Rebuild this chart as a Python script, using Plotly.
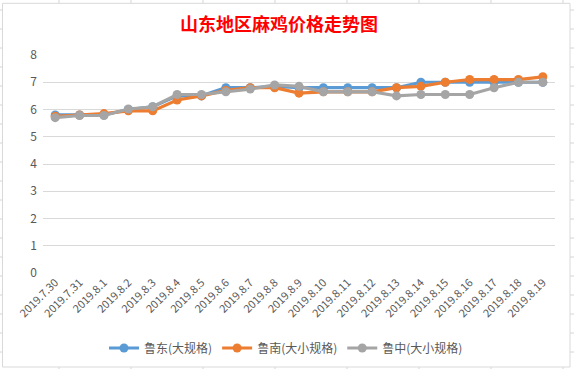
import plotly.graph_objects as go

dates = ["2019.7.30", "2019.7.31", "2019.8.1", "2019.8.2", "2019.8.3", "2019.8.4",
         "2019.8.5", "2019.8.6", "2019.8.7", "2019.8.8", "2019.8.9", "2019.8.10",
         "2019.8.11", "2019.8.12", "2019.8.13", "2019.8.14", "2019.8.15", "2019.8.16",
         "2019.8.17", "2019.8.18", "2019.8.19"]
ludong = [5.8, 5.8, 5.8, 6.0, 6.1, 6.5, 6.5, 6.8, 6.8, 6.85, 6.8, 6.8, 6.8, 6.8,
          6.8, 7.0, 7.0, 7.0, 7.0, 7.0, 7.0]
lunan = [5.75, 5.8, 5.85, 5.95, 5.95, 6.35, 6.5, 6.7, 6.8, 6.8, 6.6, 6.65, 6.65,
         6.65, 6.8, 6.85, 7.0, 7.1, 7.1, 7.1, 7.2]
luzhong = [5.7, 5.78, 5.78, 6.02, 6.1, 6.55, 6.55, 6.65, 6.75, 6.9, 6.85, 6.65,
           6.65, 6.65, 6.5, 6.55, 6.55, 6.55, 6.8, 7.0, 7.0]
names = ["鲁东(大规格)", "鲁南(大小规格)", "鲁中(大小规格)"]
colors = ["#5B9BD5", "#ED7D31", "#A5A5A5"]
yticks = [0, 1, 2, 3, 4, 5, 6, 7, 8]

W, H = 574, 369
L, R, T, B = 43, 555, 55, 273
FONT = "Noto Sans CJK SC, Liberation Sans, sans-serif"

def px2x(px):
    return (px - L) / (R - L)

def px2y(py):
    return (B - py) / (B - T)

fig = go.Figure()
for name, vals, col in zip(names, [ludong, lunan, luzhong], colors):
    fig.add_trace(go.Scatter(
        x=dates, y=vals, name=name, mode="lines+markers",
        line=dict(color=col, width=3.2),
        marker=dict(color=col, size=9),
        hoverinfo="skip",
    ))

shapes = []
grid_col = "#D4D4D4"
# spreadsheet grid outside the chart object
for cx in [59, 131, 203, 275, 347, 419, 491, 563]:
    shapes.append(dict(type="line", xref="paper", yref="paper",
                       x0=px2x(cx), x1=px2x(cx), y0=px2y(-5), y1=px2y(3.3),
                       line=dict(color=grid_col, width=1), layer="below"))
    shapes.append(dict(type="line", xref="paper", yref="paper",
                       x0=px2x(cx), x1=px2x(cx), y0=px2y(367), y1=px2y(375),
                       line=dict(color=grid_col, width=1), layer="below"))
for k in range(19):
    ry = 10 + 19 * k
    shapes.append(dict(type="line", xref="paper", yref="paper",
                       x0=px2x(-5), x1=px2x(2.5), y0=px2y(ry), y1=px2y(ry),
                       line=dict(color=grid_col, width=1), layer="below"))
    shapes.append(dict(type="line", xref="paper", yref="paper",
                       x0=px2x(570), x1=px2x(580), y0=px2y(ry), y1=px2y(ry),
                       line=dict(color=grid_col, width=1), layer="below"))
# chart border
shapes.append(dict(type="rect", xref="paper", yref="paper",
                   x0=px2x(2.5), x1=px2x(570), y0=px2y(367), y1=px2y(3.3),
                   line=dict(color="#D9D9D9", width=1), fillcolor="rgba(0,0,0,0)",
                   layer="below"))

fig.update_layout(
    width=W, height=H,
    margin=dict(l=L, r=W - R, t=T, b=H - B, autoexpand=False),
    paper_bgcolor="white", plot_bgcolor="white",
    font=dict(family=FONT, color="#595959"),
    title=dict(text="<b>山东地区麻鸡价格走势图</b>", x=279 / W, xanchor="center",
               y=1 - 25 / H, yanchor="middle",
               font=dict(family=FONT, size=18, color="#FF0000")),
    showlegend=True,
    legend=dict(orientation="h", x=px2x(286), xanchor="center",
                y=px2y(348), yanchor="middle", itemwidth=30,
                font=dict(size=12, color="#595959"), traceorder="normal",
                bgcolor="rgba(0,0,0,0)"),
    xaxis=dict(type="category", tickangle=-45, showgrid=False, zeroline=False,
               showline=False, ticks="", tickfont=dict(size=11, color="#595959"),
               range=[-0.5, len(dates) - 0.5], fixedrange=True),
    yaxis=dict(range=[0, 8], tickvals=yticks, showgrid=True, gridcolor="#D9D9D9",
               gridwidth=1, zeroline=False, showline=False, ticks="",
               ticklabelstandoff=5,
               tickfont=dict(size=12, color="#595959"), fixedrange=True),
    shapes=shapes,
    hovermode=False,
)

fig.write_html("out.html", config={"displayModeBar": False},
               post_script="document.body.style.margin='0';document.body.style.overflow='hidden';")
